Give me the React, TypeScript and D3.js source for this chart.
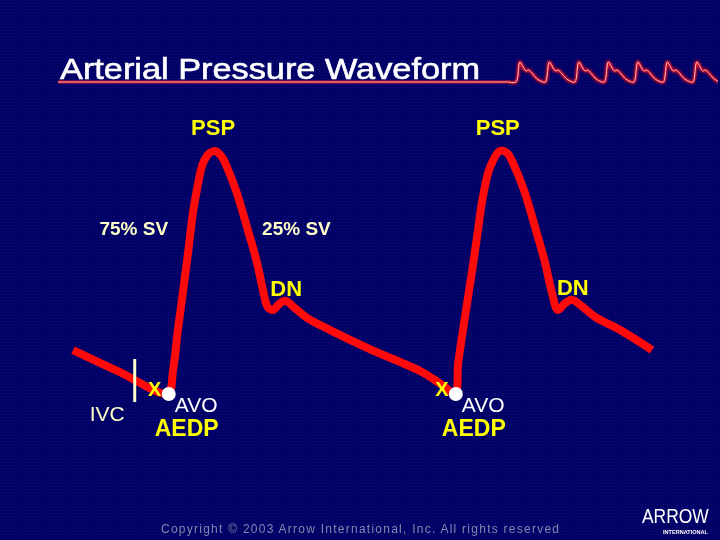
import React from 'react';
import * as d3 from 'd3';

// waveform: time (ms) and arterial pressure (mmHg)
const timeMs = [
  0, 97, 196, 207, 217, 228, 238, 248, 259, 269, 283, 294, 308, 321, 339, 360, 381, 393, 403, 414,
  424, 439, 459, 484, 532, 614, 718, 759, 790,
  797, 811, 826, 838, 848, 863, 883, 898, 914, 935, 956, 977, 991, 1003, 1018,
  1032, 1053, 1080, 1132, 1198
];
const pressure = [
  79, 74.5, 70.2, 74.9, 83.1, 91.3, 98.9, 107, 113.2, 117.3, 119.4, 119.8, 118.6, 115.9, 111.2, 104.2, 96.8, 91.3, 87.8, 87.2,
  88.2, 89.1, 87.6, 85.6, 83.1, 79.2, 74.7, 72.2, 70.2,
  76.4, 85.8, 95.4, 103.6, 110.4, 116.5, 119.8, 119.4, 116.5, 111.2, 104.2, 96.8, 90.7, 87.2, 88.6,
  89.3, 88, 85.8, 83.1, 79
];

// landmarks on each beat
const pspTime = [294, 883];
const pspPressure = [119.8, 119.8];
const dnTime = [439, 1032];
const dnPressure = [89.1, 89.3];
const avoTime = [196, 790];
const avoPressure = [70.2, 70.2];

// decorative trace beside the title: one beat as phase (0-1) and level (0-1), repeated
const miniPhase = [0, 0.13, 0.3, 0.36, 0.42, 0.72, 0.88, 1];
const miniLevel = [0, 1, 0.6, 0.55, 0.6, 0.15, 0.02, 0];
const miniBeats = [0, 1, 2, 3, 4, 5, 6];

const titleText = 'Arterial Pressure Waveform';
const copyrightText = 'Copyright \u00a9 2003 Arrow International, Inc.  All rights reserved';

const FONT = '"Liberation Sans", Arial, Helvetica, sans-serif';
const BG = '#000066';
const RED = '#ff0a0a';
const YELLOW = '#ffff00';
const CREAM = '#ffffc8';

const W = 720;
const H = 540;

export default function App() {
  const x = d3.scaleLinear().domain([0, 1200]).range([73, 653]);
  const y = d3.scaleLinear().domain([70, 120]).range([394, 150]);

  const pts: [number, number][] = timeMs.map((t, i) => [t, pressure[i]]);
  const line = d3.line<[number, number]>()
    .x(d => x(d[0]))
    .y(d => y(d[1]))
    .curve(d3.curveCatmullRom.alpha(0.5));

  const mx = d3.scaleLinear().domain([0, 1]).range([516, 545.5]);
  const my = d3.scaleLinear().domain([0, 1]).range([82, 62]);
  const miniPts: [number, number][] = [[mx.invert(509), 0]];
  miniBeats.forEach(b => {
    miniPhase.forEach((p, i) => {
      if (i === 0 && b > 0) return;
      miniPts.push([b + p, miniLevel[i]]);
    });
  });
  const miniLine = d3.line<[number, number]>()
    .x(d => mx(d[0]))
    .y(d => my(d[1]))
    .curve(d3.curveCatmullRom.alpha(0.5));
  const miniD = miniLine(miniPts) || '';

  return (
    <div style={{ position: 'fixed', left: 0, top: 0 }}>
      <svg width={W} height={H} style={{ display: 'block' }} fontFamily={FONT}>
        <defs>
          <pattern id="dots" width="3" height="3" patternUnits="userSpaceOnUse">
            <rect width="3" height="3" fill={BG} />
            <rect width="1" height="1" fill="#0c0c74" />
          </pattern>
          <filter id="glow" x="-20%" y="-50%" width="140%" height="200%">
            <feGaussianBlur stdDeviation="1.3" />
          </filter>
          <clipPath id="frame">
            <rect width={718} height={H} />
          </clipPath>
        </defs>
        <rect width={W} height={H} fill="url(#dots)" />

        {/* title */}
        <text x={60} y={79} fill="#ffffff" stroke="#ffffff" strokeWidth={0.6} fontSize={30}
          textLength={420} lengthAdjust="spacingAndGlyphs">
          {titleText}
        </text>
        <line x1={58} x2={510} y1={82} y2={82} stroke="#c81c2c" strokeWidth={3} />
        <line x1={58} x2={510} y1={82} y2={82} stroke="#ff9aa0" strokeWidth={1} />
        <g clipPath="url(#frame)">
          <path d={miniD} fill="none" stroke="#e01020" strokeWidth={3.5} filter="url(#glow)" />
          <path d={miniD} fill="none" stroke="#ffc0c0" strokeWidth={1} />
        </g>

        {/* waveform */}
        <path d={line(pts) || ''} fill="none" stroke={RED} strokeWidth={8} strokeLinejoin="round" strokeLinecap="butt" />

        {/* PSP */}
        {pspTime.map((t, i) => (
          <text key={'psp' + i} x={x(t) - 2} y={y(pspPressure[i]) - 16} fill={YELLOW} fontSize={22}
            fontWeight="bold" textAnchor="middle">PSP</text>
        ))}

        {/* stroke volume split */}
        <text x={x(pspTime[0]) - 47} y={235} fill={CREAM} fontSize={19} fontWeight="bold" textAnchor="end">75% SV</text>
        <text x={x(pspTime[0]) + 47} y={235} fill={CREAM} fontSize={19} fontWeight="bold">25% SV</text>

        {/* dicrotic notch */}
        {dnTime.map((t, i) => (
          <text key={'dn' + i} x={x(t) + 1} y={y(dnPressure[i]) - 5} fill={YELLOW} fontSize={22}
            fontWeight="bold" textAnchor="middle">DN</text>
        ))}

        {/* isovolumetric contraction */}
        <line x1={x(avoTime[0]) - 33} x2={x(avoTime[0]) - 33} y1={y(avoPressure[0]) - 34} y2={y(avoPressure[0]) + 9}
          stroke={CREAM} strokeWidth={3} />
        <text x={x(avoTime[0]) - 43} y={y(avoPressure[0]) + 28} fill={CREAM} fontSize={21} textAnchor="end">IVC</text>

        {/* aortic valve opening / end diastolic pressure */}
        {avoTime.map((t, i) => {
          const cx = x(t);
          const cy = y(avoPressure[i]);
          return (
            <g key={'avo' + i}>
              <circle cx={cx + 1} cy={cy + 1} r={7} fill="#ffffff" />
              <text x={cx - 13} y={cy + 3} fill={YELLOW} fontSize={20} fontWeight="bold" textAnchor="middle">X</text>
              <text x={cx + 7} y={cy + 19} fill="#ffffff" fontSize={21}>AVO</text>
              <text x={cx - 13} y={cy + 43} fill={YELLOW} fontSize={23} fontWeight="bold">AEDP</text>
            </g>
          );
        })}

        {/* footer */}
        <text x={161} y={533} fill="#8686b0" fontSize={12} textLength={398} lengthAdjust="spacing">
          {copyrightText}
        </text>
        <g transform="translate(642,523) scale(0.83,1)">
          <text x={0} y={0} fill="#ffffff" fontSize={21}>ARROW</text>
        </g>
        <text x={663} y={534} fill="#ffffff" fontSize={5.5} fontWeight="bold" textLength={45}
          lengthAdjust="spacingAndGlyphs">INTERNATIONAL</text>
      </svg>
    </div>
  );
}
